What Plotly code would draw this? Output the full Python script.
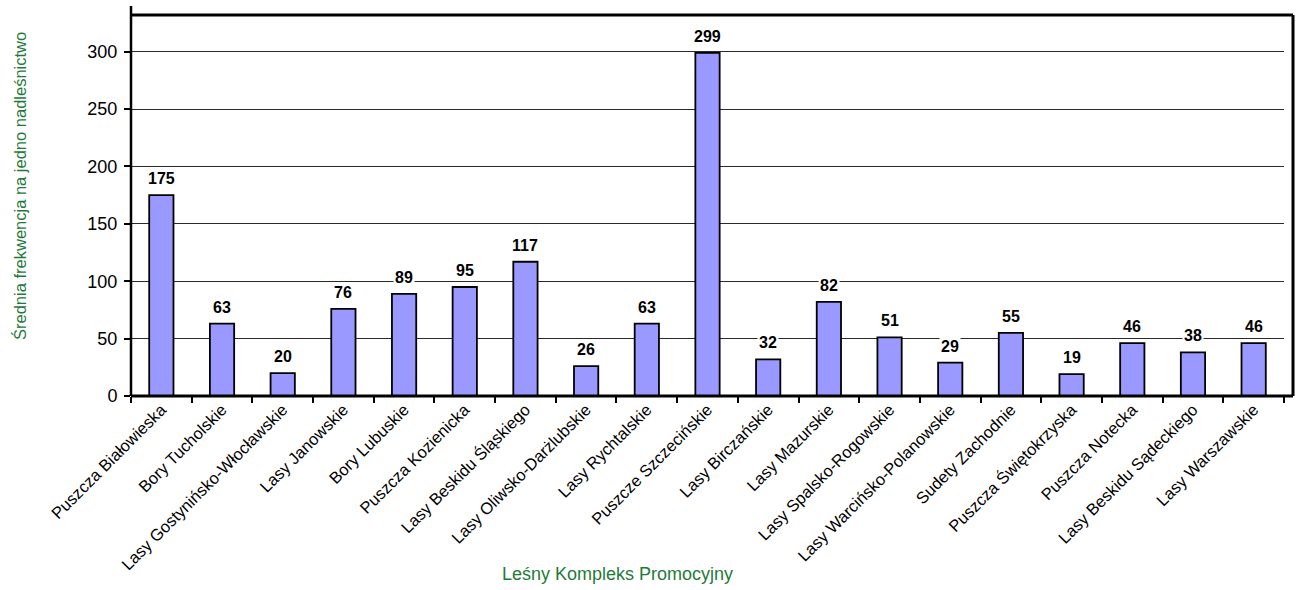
import plotly.graph_objects as go

categories = [
    "Puszcza Białowieska", "Bory Tucholskie", "Lasy Gostynińsko-Włocławskie",
    "Lasy Janowskie", "Bory Lubuskie", "Puszcza Kozienicka", "Lasy Beskidu Śląskiego",
    "Lasy Oliwsko-Darżlubskie", "Lasy Rychtalskie", "Puszcze Szczecińskie",
    "Lasy Birczańskie", "Lasy Mazurskie", "Lasy Spalsko-Rogowskie",
    "Lasy Warcińsko-Polanowskie", "Sudety Zachodnie", "Puszcza Świętokrzyska",
    "Puszcza Notecka", "Lasy Beskidu Sądeckiego", "Lasy Warszawskie",
]
values = [175, 63, 20, 76, 89, 95, 117, 26, 63, 299, 32, 82, 51, 29, 55, 19, 46, 38, 46]
y_ticks = [0, 50, 100, 150, 200, 250, 300]

green = "#1f7a3a"
FONT = "Liberation Sans, Arial, sans-serif"

W, H = 1303, 590
ML, MR, MT, MB = 131, 19, 15, 194
pw = W - ML - MR
ph = H - MT - MB
xr = 1 + 9 / pw  # right frame sits a little beyond the plot area

fig = go.Figure()
fig.add_trace(go.Bar(
    x=categories, y=values,
    marker=dict(color="#9999FF", line=dict(color="black", width=1.8)),
    width=0.4,
    hoverinfo="x+y",
))

for c, v in zip(categories, values):
    fig.add_annotation(
        x=c, y=v, text=f"<b>{v}</b>", showarrow=False,
        yanchor="bottom", yshift=6,
        font=dict(family=FONT, size=16, color="black"),
        bgcolor="white", borderpad=1,
    )

fig.add_annotation(
    xref="paper", yref="paper", x=(617 - ML) / pw, y=(H - MB - 574) / ph,
    text="Leśny Kompleks Promocyjny", showarrow=False,
    xanchor="center", yanchor="middle",
    font=dict(family=FONT, size=18, color=green),
)
fig.add_annotation(
    xref="paper", yref="paper", x=(20 - ML) / pw, y=(H - MB - 186) / ph,
    text="Średnia frekwencja na jedno nadleśnictwo", showarrow=False, textangle=-90,
    xanchor="center", yanchor="middle",
    font=dict(family=FONT, size=16.5, color=green),
)

fig.update_layout(
    width=W, height=H,
    margin=dict(l=ML, r=MR, t=MT, b=MB, autoexpand=False),
    plot_bgcolor="white", paper_bgcolor="white",
    font=dict(family=FONT, size=16, color="black"),
    showlegend=False,
    xaxis=dict(
        tickangle=-45, tickson="boundaries", ticks="outside", ticklen=6,
        tickcolor="black", tickwidth=1.5, showline=False,
        tickfont=dict(family=FONT, size=16.5, color="black"),
        showgrid=False, automargin=False,
    ),
    yaxis=dict(
        range=[0, 332], tickvals=y_ticks, ticks="outside", ticklen=6, tickcolor="black",
        tickwidth=1.5, showline=False, ticklabelstandoff=3,
        showgrid=True, gridcolor="#2a2a2a", gridwidth=1,
        tickfont=dict(family=FONT, size=18, color="black"),
        zeroline=False, automargin=False,
    ),
)

# plot frame
fig.add_shape(type="line", xref="paper", yref="paper", x0=0, x1=xr, y0=1, y1=1,
              line=dict(color="black", width=3))
fig.add_shape(type="line", xref="paper", yref="paper", x0=xr, x1=xr, y0=0, y1=1,
              line=dict(color="black", width=3))
fig.add_shape(type="line", xref="paper", yref="paper", x0=0, x1=xr, y0=0, y1=0,
              line=dict(color="black", width=3))
fig.add_shape(type="line", xref="paper", yref="paper", x0=0, x1=0, y0=0, y1=1 + 9 / ph,
              line=dict(color="black", width=2.5))

fig.write_html("out.html", config={"displayModeBar": False},
               post_script="document.body.style.margin='0';")
